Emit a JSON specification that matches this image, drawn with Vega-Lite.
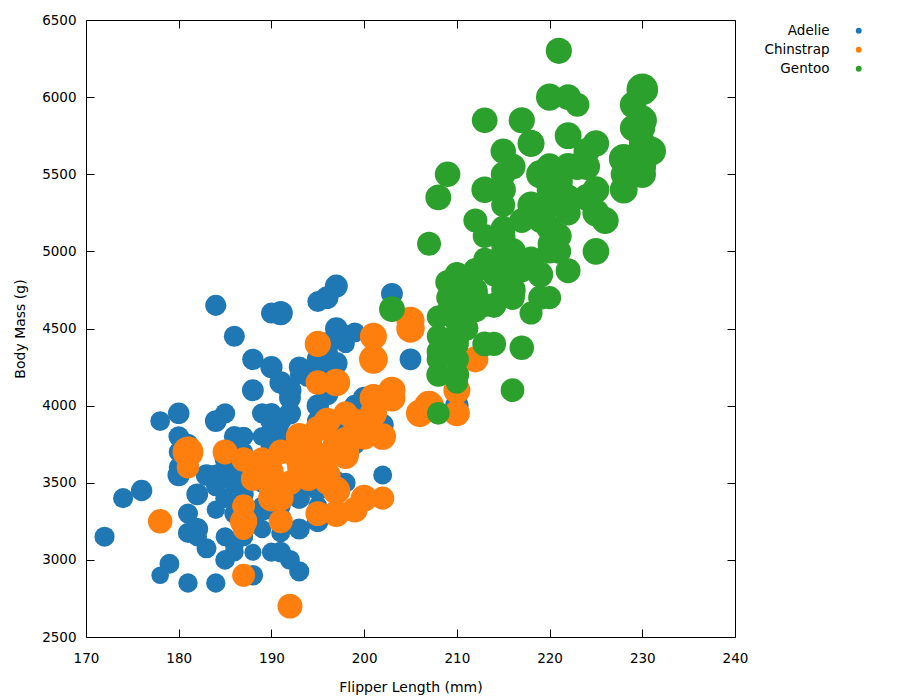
{
  "$schema": "https://vega.github.io/schema/vega-lite/v6.json",
  "width": 649,
  "height": 617,
  "autosize": {"type": "none"},
  "padding": {"left": 86, "top": 20, "right": 165, "bottom": 63},
  "background": "white",
  "config": {
    "view": {"stroke": null},
    "font": "DejaVu Sans",
    "axis": {
      "grid": false,
      "domainColor": "black",
      "domainWidth": 1,
      "tickColor": "black",
      "tickWidth": 1,
      "tickSize": -8,
      "labelFont": "DejaVu Sans",
      "labelFontSize": 13.5,
      "labelColor": "black",
      "labelFlush": false,
      "labelOverlap": false,
      "format": "d",
      "titleFont": "DejaVu Sans",
      "titleFontSize": 14,
      "titleFontWeight": "normal",
      "titleColor": "black"
    }
  },
  "data": {
    "values": [
      {"species":"Adelie","flipper":181,"mass":3750,"bill":39.1},
      {"species":"Adelie","flipper":186,"mass":3800,"bill":39.5},
      {"species":"Adelie","flipper":195,"mass":3250,"bill":40.3},
      {"species":"Adelie","flipper":193,"mass":3450,"bill":36.7},
      {"species":"Adelie","flipper":190,"mass":3650,"bill":39.3},
      {"species":"Adelie","flipper":181,"mass":3625,"bill":38.9},
      {"species":"Adelie","flipper":195,"mass":4675,"bill":39.2},
      {"species":"Adelie","flipper":193,"mass":3475,"bill":34.1},
      {"species":"Adelie","flipper":190,"mass":4250,"bill":42},
      {"species":"Adelie","flipper":186,"mass":3300,"bill":37.8},
      {"species":"Adelie","flipper":180,"mass":3700,"bill":37.8},
      {"species":"Adelie","flipper":182,"mass":3200,"bill":41.1},
      {"species":"Adelie","flipper":191,"mass":3800,"bill":38.6},
      {"species":"Adelie","flipper":198,"mass":4400,"bill":34.6},
      {"species":"Adelie","flipper":185,"mass":3700,"bill":36.6},
      {"species":"Adelie","flipper":195,"mass":3450,"bill":38.7},
      {"species":"Adelie","flipper":197,"mass":4500,"bill":42.5},
      {"species":"Adelie","flipper":184,"mass":3325,"bill":34.4},
      {"species":"Adelie","flipper":194,"mass":4200,"bill":46},
      {"species":"Adelie","flipper":174,"mass":3400,"bill":37.8},
      {"species":"Adelie","flipper":180,"mass":3600,"bill":37.7},
      {"species":"Adelie","flipper":189,"mass":3800,"bill":35.9},
      {"species":"Adelie","flipper":185,"mass":3950,"bill":38.2},
      {"species":"Adelie","flipper":180,"mass":3800,"bill":38.8},
      {"species":"Adelie","flipper":187,"mass":3800,"bill":35.3},
      {"species":"Adelie","flipper":183,"mass":3550,"bill":40.6},
      {"species":"Adelie","flipper":187,"mass":3200,"bill":40.5},
      {"species":"Adelie","flipper":172,"mass":3150,"bill":37.9},
      {"species":"Adelie","flipper":180,"mass":3950,"bill":40.5},
      {"species":"Adelie","flipper":178,"mass":3250,"bill":39.5},
      {"species":"Adelie","flipper":178,"mass":3900,"bill":37.2},
      {"species":"Adelie","flipper":188,"mass":3300,"bill":39.5},
      {"species":"Adelie","flipper":184,"mass":3900,"bill":40.9},
      {"species":"Adelie","flipper":195,"mass":3325,"bill":36.4},
      {"species":"Adelie","flipper":196,"mass":4150,"bill":39.2},
      {"species":"Adelie","flipper":190,"mass":3950,"bill":38.8},
      {"species":"Adelie","flipper":180,"mass":3550,"bill":42.2},
      {"species":"Adelie","flipper":181,"mass":3300,"bill":37.6},
      {"species":"Adelie","flipper":184,"mass":4650,"bill":39.8},
      {"species":"Adelie","flipper":182,"mass":3150,"bill":36.5},
      {"species":"Adelie","flipper":195,"mass":3900,"bill":40.8},
      {"species":"Adelie","flipper":186,"mass":3100,"bill":36},
      {"species":"Adelie","flipper":196,"mass":4400,"bill":44.1},
      {"species":"Adelie","flipper":185,"mass":3000,"bill":37},
      {"species":"Adelie","flipper":190,"mass":4600,"bill":39.6},
      {"species":"Adelie","flipper":182,"mass":3425,"bill":41.1},
      {"species":"Adelie","flipper":179,"mass":2975,"bill":37.5},
      {"species":"Adelie","flipper":190,"mass":3450,"bill":36},
      {"species":"Adelie","flipper":191,"mass":4150,"bill":42.3},
      {"species":"Adelie","flipper":186,"mass":3500,"bill":39.6},
      {"species":"Adelie","flipper":188,"mass":4300,"bill":40.1},
      {"species":"Adelie","flipper":190,"mass":3450,"bill":35},
      {"species":"Adelie","flipper":200,"mass":4050,"bill":42},
      {"species":"Adelie","flipper":187,"mass":2900,"bill":34.5},
      {"species":"Adelie","flipper":191,"mass":3700,"bill":41.4},
      {"species":"Adelie","flipper":186,"mass":3550,"bill":39},
      {"species":"Adelie","flipper":193,"mass":3800,"bill":40.6},
      {"species":"Adelie","flipper":181,"mass":2850,"bill":36.5},
      {"species":"Adelie","flipper":194,"mass":3750,"bill":37.6},
      {"species":"Adelie","flipper":185,"mass":3150,"bill":35.7},
      {"species":"Adelie","flipper":195,"mass":4400,"bill":41.3},
      {"species":"Adelie","flipper":185,"mass":3600,"bill":37.6},
      {"species":"Adelie","flipper":192,"mass":4050,"bill":41.1},
      {"species":"Adelie","flipper":184,"mass":2850,"bill":36.4},
      {"species":"Adelie","flipper":192,"mass":3950,"bill":41.6},
      {"species":"Adelie","flipper":195,"mass":3350,"bill":35.5},
      {"species":"Adelie","flipper":188,"mass":4100,"bill":41.1},
      {"species":"Adelie","flipper":190,"mass":3050,"bill":35.9},
      {"species":"Adelie","flipper":198,"mass":4450,"bill":41.8},
      {"species":"Adelie","flipper":190,"mass":3600,"bill":33.5},
      {"species":"Adelie","flipper":190,"mass":3900,"bill":39.7},
      {"species":"Adelie","flipper":196,"mass":3550,"bill":39.6},
      {"species":"Adelie","flipper":197,"mass":4150,"bill":45.8},
      {"species":"Adelie","flipper":190,"mass":3700,"bill":35.5},
      {"species":"Adelie","flipper":195,"mass":4250,"bill":42.8},
      {"species":"Adelie","flipper":191,"mass":3700,"bill":40.9},
      {"species":"Adelie","flipper":184,"mass":3900,"bill":37.2},
      {"species":"Adelie","flipper":187,"mass":3550,"bill":36.2},
      {"species":"Adelie","flipper":195,"mass":4000,"bill":42.1},
      {"species":"Adelie","flipper":189,"mass":3200,"bill":34.6},
      {"species":"Adelie","flipper":196,"mass":4700,"bill":42.9},
      {"species":"Adelie","flipper":187,"mass":3800,"bill":36.7},
      {"species":"Adelie","flipper":193,"mass":4200,"bill":35.1},
      {"species":"Adelie","flipper":191,"mass":3350,"bill":37.3},
      {"species":"Adelie","flipper":194,"mass":3550,"bill":41.3},
      {"species":"Adelie","flipper":190,"mass":3800,"bill":36.3},
      {"species":"Adelie","flipper":189,"mass":3500,"bill":36.9},
      {"species":"Adelie","flipper":189,"mass":3950,"bill":38.3},
      {"species":"Adelie","flipper":190,"mass":3600,"bill":38.9},
      {"species":"Adelie","flipper":202,"mass":3550,"bill":35.7},
      {"species":"Adelie","flipper":205,"mass":4300,"bill":41.1},
      {"species":"Adelie","flipper":185,"mass":3400,"bill":34},
      {"species":"Adelie","flipper":186,"mass":4450,"bill":39.6},
      {"species":"Adelie","flipper":187,"mass":3300,"bill":36.2},
      {"species":"Adelie","flipper":208,"mass":4300,"bill":40.8},
      {"species":"Adelie","flipper":190,"mass":3700,"bill":38.1},
      {"species":"Adelie","flipper":196,"mass":4350,"bill":40.3},
      {"species":"Adelie","flipper":178,"mass":2900,"bill":33.1},
      {"species":"Adelie","flipper":192,"mass":4100,"bill":43.2},
      {"species":"Adelie","flipper":192,"mass":3725,"bill":35},
      {"species":"Adelie","flipper":203,"mass":4725,"bill":41},
      {"species":"Adelie","flipper":183,"mass":3075,"bill":37.7},
      {"species":"Adelie","flipper":190,"mass":4250,"bill":37.8},
      {"species":"Adelie","flipper":193,"mass":2925,"bill":37.9},
      {"species":"Adelie","flipper":184,"mass":3550,"bill":39.7},
      {"species":"Adelie","flipper":199,"mass":3750,"bill":38.6},
      {"species":"Adelie","flipper":190,"mass":3900,"bill":38.2},
      {"species":"Adelie","flipper":181,"mass":3175,"bill":38.1},
      {"species":"Adelie","flipper":197,"mass":4775,"bill":43.2},
      {"species":"Adelie","flipper":198,"mass":3825,"bill":38.1},
      {"species":"Adelie","flipper":191,"mass":4600,"bill":45.6},
      {"species":"Adelie","flipper":193,"mass":3200,"bill":39.7},
      {"species":"Adelie","flipper":197,"mass":4275,"bill":42.2},
      {"species":"Adelie","flipper":191,"mass":3900,"bill":39.6},
      {"species":"Adelie","flipper":196,"mass":4075,"bill":42.7},
      {"species":"Adelie","flipper":188,"mass":2900,"bill":38.6},
      {"species":"Adelie","flipper":199,"mass":3775,"bill":37.3},
      {"species":"Adelie","flipper":189,"mass":3350,"bill":35.7},
      {"species":"Adelie","flipper":189,"mass":3325,"bill":41.1},
      {"species":"Adelie","flipper":187,"mass":3150,"bill":36.2},
      {"species":"Adelie","flipper":198,"mass":3500,"bill":37.7},
      {"species":"Adelie","flipper":176,"mass":3450,"bill":40.2},
      {"species":"Adelie","flipper":202,"mass":3875,"bill":41.4},
      {"species":"Adelie","flipper":186,"mass":3050,"bill":35.2},
      {"species":"Adelie","flipper":199,"mass":4000,"bill":40.6},
      {"species":"Adelie","flipper":191,"mass":3275,"bill":38.8},
      {"species":"Adelie","flipper":195,"mass":4300,"bill":41.5},
      {"species":"Adelie","flipper":191,"mass":3050,"bill":39},
      {"species":"Adelie","flipper":210,"mass":4000,"bill":44.1},
      {"species":"Adelie","flipper":190,"mass":3325,"bill":38.5},
      {"species":"Adelie","flipper":197,"mass":3500,"bill":43.1},
      {"species":"Adelie","flipper":193,"mass":3500,"bill":36.8},
      {"species":"Adelie","flipper":199,"mass":4475,"bill":37.5},
      {"species":"Adelie","flipper":187,"mass":3425,"bill":38.1},
      {"species":"Adelie","flipper":190,"mass":3900,"bill":41.1},
      {"species":"Adelie","flipper":191,"mass":3175,"bill":35.6},
      {"species":"Adelie","flipper":200,"mass":3975,"bill":40.2},
      {"species":"Adelie","flipper":185,"mass":3400,"bill":37},
      {"species":"Adelie","flipper":193,"mass":4250,"bill":39.7},
      {"species":"Adelie","flipper":193,"mass":3400,"bill":40.2},
      {"species":"Adelie","flipper":187,"mass":3475,"bill":40.6},
      {"species":"Adelie","flipper":188,"mass":3050,"bill":32.1},
      {"species":"Adelie","flipper":190,"mass":3725,"bill":40.7},
      {"species":"Adelie","flipper":192,"mass":3000,"bill":37.3},
      {"species":"Adelie","flipper":185,"mass":3650,"bill":39},
      {"species":"Adelie","flipper":190,"mass":4250,"bill":39.2},
      {"species":"Adelie","flipper":184,"mass":3475,"bill":36.6},
      {"species":"Adelie","flipper":195,"mass":3450,"bill":36},
      {"species":"Adelie","flipper":193,"mass":3750,"bill":37.8},
      {"species":"Adelie","flipper":187,"mass":3700,"bill":36},
      {"species":"Adelie","flipper":201,"mass":4000,"bill":41.5},
      {"species":"Chinstrap","flipper":192,"mass":3500,"bill":46.5},
      {"species":"Chinstrap","flipper":196,"mass":3900,"bill":50},
      {"species":"Chinstrap","flipper":193,"mass":3650,"bill":51.3},
      {"species":"Chinstrap","flipper":188,"mass":3525,"bill":45.4},
      {"species":"Chinstrap","flipper":197,"mass":3725,"bill":52.7},
      {"species":"Chinstrap","flipper":198,"mass":3950,"bill":45.2},
      {"species":"Chinstrap","flipper":178,"mass":3250,"bill":46.1},
      {"species":"Chinstrap","flipper":197,"mass":3750,"bill":51.3},
      {"species":"Chinstrap","flipper":195,"mass":4150,"bill":46},
      {"species":"Chinstrap","flipper":198,"mass":3700,"bill":51.3},
      {"species":"Chinstrap","flipper":193,"mass":3800,"bill":46.6},
      {"species":"Chinstrap","flipper":194,"mass":3775,"bill":51.7},
      {"species":"Chinstrap","flipper":185,"mass":3700,"bill":47},
      {"species":"Chinstrap","flipper":201,"mass":4050,"bill":52},
      {"species":"Chinstrap","flipper":190,"mass":3575,"bill":45.9},
      {"species":"Chinstrap","flipper":201,"mass":4050,"bill":50.5},
      {"species":"Chinstrap","flipper":197,"mass":3300,"bill":50.3},
      {"species":"Chinstrap","flipper":181,"mass":3700,"bill":58},
      {"species":"Chinstrap","flipper":190,"mass":3450,"bill":46.4},
      {"species":"Chinstrap","flipper":195,"mass":4400,"bill":49.2},
      {"species":"Chinstrap","flipper":181,"mass":3600,"bill":42.4},
      {"species":"Chinstrap","flipper":191,"mass":3400,"bill":48.5},
      {"species":"Chinstrap","flipper":187,"mass":2900,"bill":43.2},
      {"species":"Chinstrap","flipper":193,"mass":3800,"bill":50.6},
      {"species":"Chinstrap","flipper":195,"mass":3300,"bill":46.7},
      {"species":"Chinstrap","flipper":197,"mass":4150,"bill":52},
      {"species":"Chinstrap","flipper":200,"mass":3400,"bill":50.5},
      {"species":"Chinstrap","flipper":200,"mass":3800,"bill":49.5},
      {"species":"Chinstrap","flipper":191,"mass":3700,"bill":46.4},
      {"species":"Chinstrap","flipper":205,"mass":4550,"bill":52.8},
      {"species":"Chinstrap","flipper":187,"mass":3200,"bill":40.9},
      {"species":"Chinstrap","flipper":201,"mass":4300,"bill":54.2},
      {"species":"Chinstrap","flipper":187,"mass":3350,"bill":42.5},
      {"species":"Chinstrap","flipper":203,"mass":4100,"bill":51},
      {"species":"Chinstrap","flipper":195,"mass":3600,"bill":49.7},
      {"species":"Chinstrap","flipper":199,"mass":3900,"bill":47.5},
      {"species":"Chinstrap","flipper":195,"mass":3850,"bill":47.6},
      {"species":"Chinstrap","flipper":210,"mass":4800,"bill":52},
      {"species":"Chinstrap","flipper":192,"mass":2700,"bill":46.9},
      {"species":"Chinstrap","flipper":205,"mass":4500,"bill":53.5},
      {"species":"Chinstrap","flipper":210,"mass":3950,"bill":49},
      {"species":"Chinstrap","flipper":187,"mass":3650,"bill":46.2},
      {"species":"Chinstrap","flipper":196,"mass":3550,"bill":50.9},
      {"species":"Chinstrap","flipper":196,"mass":3500,"bill":45.5},
      {"species":"Chinstrap","flipper":196,"mass":3675,"bill":50.9},
      {"species":"Chinstrap","flipper":201,"mass":4450,"bill":50.8},
      {"species":"Chinstrap","flipper":190,"mass":3400,"bill":50.1},
      {"species":"Chinstrap","flipper":212,"mass":4300,"bill":49},
      {"species":"Chinstrap","flipper":187,"mass":3250,"bill":51.5},
      {"species":"Chinstrap","flipper":198,"mass":3675,"bill":49.8},
      {"species":"Chinstrap","flipper":199,"mass":3325,"bill":48.1},
      {"species":"Chinstrap","flipper":201,"mass":3950,"bill":51.4},
      {"species":"Chinstrap","flipper":193,"mass":3600,"bill":45.7},
      {"species":"Chinstrap","flipper":203,"mass":4050,"bill":50.7},
      {"species":"Chinstrap","flipper":187,"mass":3350,"bill":42.5},
      {"species":"Chinstrap","flipper":197,"mass":3450,"bill":52.2},
      {"species":"Chinstrap","flipper":191,"mass":3250,"bill":45.2},
      {"species":"Chinstrap","flipper":203,"mass":4050,"bill":49.3},
      {"species":"Chinstrap","flipper":202,"mass":3800,"bill":50.2},
      {"species":"Chinstrap","flipper":194,"mass":3525,"bill":45.6},
      {"species":"Chinstrap","flipper":206,"mass":3950,"bill":51.9},
      {"species":"Chinstrap","flipper":189,"mass":3650,"bill":46.8},
      {"species":"Chinstrap","flipper":195,"mass":3650,"bill":45.7},
      {"species":"Chinstrap","flipper":207,"mass":4000,"bill":55.8},
      {"species":"Chinstrap","flipper":202,"mass":3400,"bill":43.5},
      {"species":"Chinstrap","flipper":193,"mass":3775,"bill":49.6},
      {"species":"Chinstrap","flipper":210,"mass":4100,"bill":50.8},
      {"species":"Chinstrap","flipper":198,"mass":3775,"bill":50.2},
      {"species":"Gentoo","flipper":211,"mass":4500,"bill":46.1},
      {"species":"Gentoo","flipper":230,"mass":5700,"bill":50},
      {"species":"Gentoo","flipper":210,"mass":4450,"bill":48.7},
      {"species":"Gentoo","flipper":218,"mass":5700,"bill":50},
      {"species":"Gentoo","flipper":215,"mass":5400,"bill":47.6},
      {"species":"Gentoo","flipper":210,"mass":4550,"bill":46.5},
      {"species":"Gentoo","flipper":211,"mass":4800,"bill":45.4},
      {"species":"Gentoo","flipper":219,"mass":5200,"bill":46.7},
      {"species":"Gentoo","flipper":209,"mass":4400,"bill":43.3},
      {"species":"Gentoo","flipper":215,"mass":5150,"bill":46.8},
      {"species":"Gentoo","flipper":214,"mass":4650,"bill":40.9},
      {"species":"Gentoo","flipper":216,"mass":5550,"bill":49},
      {"species":"Gentoo","flipper":214,"mass":4650,"bill":45.5},
      {"species":"Gentoo","flipper":213,"mass":5850,"bill":48.4},
      {"species":"Gentoo","flipper":210,"mass":4200,"bill":45.8},
      {"species":"Gentoo","flipper":217,"mass":5850,"bill":49.3},
      {"species":"Gentoo","flipper":210,"mass":4150,"bill":42},
      {"species":"Gentoo","flipper":221,"mass":6300,"bill":49.2},
      {"species":"Gentoo","flipper":209,"mass":4800,"bill":46.2},
      {"species":"Gentoo","flipper":222,"mass":5350,"bill":48.7},
      {"species":"Gentoo","flipper":218,"mass":5700,"bill":50.2},
      {"species":"Gentoo","flipper":215,"mass":5000,"bill":45.1},
      {"species":"Gentoo","flipper":213,"mass":4400,"bill":46.5},
      {"species":"Gentoo","flipper":215,"mass":5050,"bill":46.3},
      {"species":"Gentoo","flipper":215,"mass":5000,"bill":42.9},
      {"species":"Gentoo","flipper":215,"mass":5100,"bill":46.1},
      {"species":"Gentoo","flipper":216,"mass":4100,"bill":44.5},
      {"species":"Gentoo","flipper":215,"mass":5650,"bill":47.8},
      {"species":"Gentoo","flipper":210,"mass":4600,"bill":48.2},
      {"species":"Gentoo","flipper":220,"mass":5550,"bill":50},
      {"species":"Gentoo","flipper":222,"mass":5250,"bill":47.3},
      {"species":"Gentoo","flipper":209,"mass":4700,"bill":42.8},
      {"species":"Gentoo","flipper":207,"mass":5050,"bill":45.1},
      {"species":"Gentoo","flipper":230,"mass":6050,"bill":59.6},
      {"species":"Gentoo","flipper":220,"mass":5150,"bill":49.1},
      {"species":"Gentoo","flipper":220,"mass":5400,"bill":48.4},
      {"species":"Gentoo","flipper":213,"mass":4950,"bill":42.6},
      {"species":"Gentoo","flipper":219,"mass":5250,"bill":44.4},
      {"species":"Gentoo","flipper":208,"mass":4350,"bill":44},
      {"species":"Gentoo","flipper":208,"mass":5350,"bill":48.7},
      {"species":"Gentoo","flipper":208,"mass":3950,"bill":42.7},
      {"species":"Gentoo","flipper":225,"mass":5700,"bill":49.6},
      {"species":"Gentoo","flipper":210,"mass":4300,"bill":45.3},
      {"species":"Gentoo","flipper":216,"mass":4750,"bill":49.6},
      {"species":"Gentoo","flipper":222,"mass":5550,"bill":50.5},
      {"species":"Gentoo","flipper":217,"mass":4900,"bill":43.6},
      {"species":"Gentoo","flipper":210,"mass":4200,"bill":45.5},
      {"species":"Gentoo","flipper":225,"mass":5400,"bill":50.5},
      {"species":"Gentoo","flipper":213,"mass":5100,"bill":44.9},
      {"species":"Gentoo","flipper":215,"mass":5300,"bill":45.2},
      {"species":"Gentoo","flipper":210,"mass":4850,"bill":46.6},
      {"species":"Gentoo","flipper":220,"mass":5300,"bill":48.5},
      {"species":"Gentoo","flipper":210,"mass":4400,"bill":45.1},
      {"species":"Gentoo","flipper":225,"mass":5000,"bill":50.1},
      {"species":"Gentoo","flipper":217,"mass":4900,"bill":46.5},
      {"species":"Gentoo","flipper":220,"mass":5050,"bill":45},
      {"species":"Gentoo","flipper":208,"mass":4300,"bill":43.8},
      {"species":"Gentoo","flipper":220,"mass":5000,"bill":45.5},
      {"species":"Gentoo","flipper":208,"mass":4450,"bill":43.2},
      {"species":"Gentoo","flipper":224,"mass":5550,"bill":50.4},
      {"species":"Gentoo","flipper":208,"mass":4200,"bill":45.3},
      {"species":"Gentoo","flipper":221,"mass":5300,"bill":46.2},
      {"species":"Gentoo","flipper":214,"mass":4400,"bill":45.7},
      {"species":"Gentoo","flipper":231,"mass":5650,"bill":54.3},
      {"species":"Gentoo","flipper":219,"mass":4700,"bill":45.8},
      {"species":"Gentoo","flipper":230,"mass":5700,"bill":49.8},
      {"species":"Gentoo","flipper":214,"mass":4650,"bill":46.2},
      {"species":"Gentoo","flipper":229,"mass":5800,"bill":49.5},
      {"species":"Gentoo","flipper":220,"mass":4700,"bill":43.5},
      {"species":"Gentoo","flipper":223,"mass":5550,"bill":50.7},
      {"species":"Gentoo","flipper":216,"mass":4750,"bill":47.7},
      {"species":"Gentoo","flipper":221,"mass":5000,"bill":46.4},
      {"species":"Gentoo","flipper":221,"mass":5100,"bill":48.2},
      {"species":"Gentoo","flipper":217,"mass":5200,"bill":46.5},
      {"species":"Gentoo","flipper":216,"mass":4700,"bill":46.4},
      {"species":"Gentoo","flipper":230,"mass":5800,"bill":48.6},
      {"species":"Gentoo","flipper":209,"mass":4600,"bill":47.5},
      {"species":"Gentoo","flipper":220,"mass":6000,"bill":51.1},
      {"species":"Gentoo","flipper":215,"mass":4750,"bill":45.2},
      {"species":"Gentoo","flipper":223,"mass":5950,"bill":45.2},
      {"species":"Gentoo","flipper":212,"mass":4625,"bill":49.1},
      {"species":"Gentoo","flipper":221,"mass":5450,"bill":52.5},
      {"species":"Gentoo","flipper":212,"mass":4725,"bill":47.4},
      {"species":"Gentoo","flipper":224,"mass":5350,"bill":50},
      {"species":"Gentoo","flipper":212,"mass":4750,"bill":44.9},
      {"species":"Gentoo","flipper":228,"mass":5600,"bill":50.8},
      {"species":"Gentoo","flipper":218,"mass":4600,"bill":43.4},
      {"species":"Gentoo","flipper":218,"mass":5300,"bill":51.3},
      {"species":"Gentoo","flipper":212,"mass":4875,"bill":47.5},
      {"species":"Gentoo","flipper":230,"mass":5550,"bill":52.1},
      {"species":"Gentoo","flipper":218,"mass":4950,"bill":47.5},
      {"species":"Gentoo","flipper":228,"mass":5400,"bill":52.2},
      {"species":"Gentoo","flipper":212,"mass":4750,"bill":45.5},
      {"species":"Gentoo","flipper":224,"mass":5650,"bill":49.5},
      {"species":"Gentoo","flipper":214,"mass":4850,"bill":44.5},
      {"species":"Gentoo","flipper":226,"mass":5200,"bill":50.8},
      {"species":"Gentoo","flipper":216,"mass":4925,"bill":49.4},
      {"species":"Gentoo","flipper":222,"mass":4875,"bill":46.9},
      {"species":"Gentoo","flipper":203,"mass":4625,"bill":48.4},
      {"species":"Gentoo","flipper":225,"mass":5250,"bill":51.1},
      {"species":"Gentoo","flipper":219,"mass":4850,"bill":48.5},
      {"species":"Gentoo","flipper":228,"mass":5600,"bill":55.9},
      {"species":"Gentoo","flipper":215,"mass":4975,"bill":47.2},
      {"species":"Gentoo","flipper":228,"mass":5500,"bill":49.1},
      {"species":"Gentoo","flipper":216,"mass":4725,"bill":47.3},
      {"species":"Gentoo","flipper":215,"mass":5500,"bill":46.8},
      {"species":"Gentoo","flipper":210,"mass":4700,"bill":41.7},
      {"species":"Gentoo","flipper":219,"mass":5500,"bill":53.4},
      {"species":"Gentoo","flipper":208,"mass":4575,"bill":43.3},
      {"species":"Gentoo","flipper":209,"mass":5500,"bill":48.1},
      {"species":"Gentoo","flipper":216,"mass":5000,"bill":50.5},
      {"species":"Gentoo","flipper":229,"mass":5950,"bill":49.8},
      {"species":"Gentoo","flipper":213,"mass":4650,"bill":43.5},
      {"species":"Gentoo","flipper":230,"mass":5500,"bill":51.5},
      {"species":"Gentoo","flipper":217,"mass":4375,"bill":46.2},
      {"species":"Gentoo","flipper":230,"mass":5850,"bill":55.1},
      {"species":"Gentoo","flipper":217,"mass":4875,"bill":44.5},
      {"species":"Gentoo","flipper":222,"mass":6000,"bill":48.8},
      {"species":"Gentoo","flipper":214,"mass":4925,"bill":47.2},
      {"species":"Gentoo","flipper":215,"mass":4850,"bill":46.8},
      {"species":"Gentoo","flipper":222,"mass":5750,"bill":50.4},
      {"species":"Gentoo","flipper":212,"mass":5200,"bill":45.2},
      {"species":"Gentoo","flipper":213,"mass":5400,"bill":49.9}
    ]
  },
  "layer": [
    {
      "mark": {"type": "point", "opacity": 0},
      "encoding": {
        "x": {
          "field": "flipper", "type": "quantitative",
          "scale": {"domain": [170, 240], "nice": false, "zero": false},
          "axis": {"orient": "top", "labels": false, "title": null, "values": [170, 180, 190, 200, 210, 220, 230, 240]}
        },
        "y": {
          "field": "mass", "type": "quantitative",
          "scale": {"domain": [2500, 6500], "nice": false, "zero": false},
          "axis": {"orient": "right", "labels": false, "title": null, "values": [2500, 3000, 3500, 4000, 4500, 5000, 5500, 6000, 6500]}
        }
      }
    },
    {
      "mark": {"type": "circle", "opacity": 1, "strokeWidth": 0},
      "encoding": {
        "x": {
          "field": "flipper", "type": "quantitative",
          "scale": {"domain": [170, 240], "nice": false, "zero": false},
          "axis": {"orient": "bottom", "title": "Flipper Length (mm)", "values": [170, 180, 190, 200, 210, 220, 230, 240], "labelPadding": 22, "titlePadding": 16}
        },
        "y": {
          "field": "mass", "type": "quantitative",
          "scale": {"domain": [2500, 6500], "nice": false, "zero": false},
          "axis": {"orient": "left", "title": "Body Mass (g)", "values": [2500, 3000, 3500, 4000, 4500, 5000, 5500, 6000, 6500], "labelPadding": 18, "titlePadding": 14}
        },
        "color": {
          "field": "species", "type": "nominal",
          "scale": {"domain": ["Adelie", "Chinstrap", "Gentoo"], "range": ["#1f77b4", "#ff7f0e", "#2ca02c"]},
          "legend": {
            "orient": "none", "legendX": 766, "legendY": 4,
            "title": null, "padding": 0,
            "symbolType": "circle", "symbolSize": 35, "symbolStrokeWidth": 0,
            "labelAlign": "right", "labelOffset": -36,
            "labelFont": "DejaVu Sans", "labelFontSize": 13.5, "labelColor": "black",
            "rowPadding": 4
          }
        },
        "size": {
          "field": "bill", "type": "quantitative",
          "scale": {"type": "pow", "exponent": 2, "domain": [0, 60], "range": [0, 1018]},
          "legend": null
        }
      }
    }
  ],
  "resolve": {"axis": {"x": "independent", "y": "independent"}}
}
